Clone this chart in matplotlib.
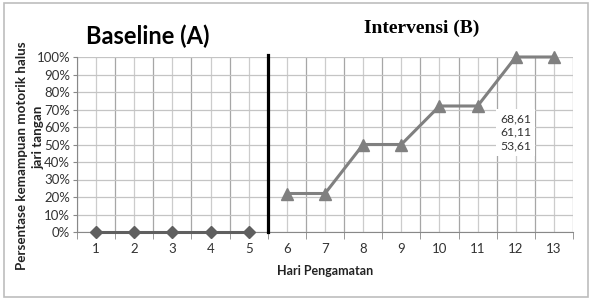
import matplotlib.pyplot as plt
from matplotlib.patches import Rectangle
from matplotlib.ticker import PercentFormatter

days = [1, 2, 3, 4, 5, 6, 7, 8, 9, 10, 11, 12, 13]
baseline_days = [1, 2, 3, 4, 5]
baseline_vals = [0, 0, 0, 0, 0]
interv_days = [6, 7, 8, 9, 10, 11, 12, 13]
interv_vals = [0.22, 0.22, 0.50, 0.50, 0.72, 0.72, 1.00, 1.00]
label_text = ["68,61", "61,11", "53,61"]

plt.rcParams['font.family'] = ['Lato', 'DejaVu Sans']

fig = plt.figure(figsize=(5.94, 3.02), dpi=100)
ax = fig.add_axes([77 / 594, 1 - 232 / 302, 496 / 594, 175 / 302])

ax.plot(baseline_days, baseline_vals, color='#5f5f5f', lw=2.2,
        marker='D', ms=6, zorder=3, clip_on=False)
ax.plot(interv_days, interv_vals, color='#808080', lw=2.2,
        marker='^', ms=8, zorder=3, clip_on=False)
ax.axvline(5.5, ymin=0, ymax=1.01, color='black', lw=2.3, zorder=4, clip_on=False)

ax.set_xlim(0.5, 13.5)
ax.set_ylim(0, 1)
ax.set_xticks(days)
ax.set_xticks([d + 0.5 for d in range(0, 14)], minor=True)
ax.set_yticks([i / 10 for i in range(11)])
ax.yaxis.set_major_formatter(PercentFormatter(1.0, decimals=0))
ax.tick_params(axis='x', which='major', length=0, pad=8, labelsize=9.5, colors='#333333')
ax.tick_params(axis='x', which='minor', length=5, color='#888888')
ax.tick_params(axis='y', length=3, color='#888888', labelsize=9.5, pad=2, labelcolor='#333333')

ax.grid(True, axis='x', which='major', color='#cccccc', lw=0.9)
ax.grid(True, axis='x', which='minor', color='#a6a6a6', lw=0.9)
ax.grid(True, axis='y', which='major', color='#c4c4c4', lw=0.9)
ax.set_axisbelow(True)
for s in ['top', 'right']:
    ax.spines[s].set_visible(False)
for s in ['left', 'bottom']:
    ax.spines[s].set_color('#888888')

ax.text(12.0, 0.57, "\n".join(label_text), ha='center', va='center',
        fontsize=8.8, color='#333333', linespacing=1.3, zorder=5,
        bbox=dict(facecolor='white', edgecolor='none', pad=3))

fig.text(148 / 594, 1 - 36 / 302, "Baseline (A)", ha='center', va='center',
         fontsize=17, fontweight='bold')
fig.text(422 / 594, 1 - 28 / 302, "Intervensi (B)", ha='center', va='center',
         fontsize=14, fontweight='bold', family='Liberation Serif')
fig.text(325 / 594, 1 - 271 / 302, "Hari Pengamatan", ha='center', va='center',
         fontsize=9, fontweight='bold', color='#222222')
fig.text(22 / 594, 1 - 156 / 302, "Persentase kemampuan motorik halus", ha='center',
         va='center', rotation=90, fontsize=9.6, fontweight='bold', color='#222222')
fig.text(38 / 594, 1 - 137 / 302, "jari tangan", ha='center', va='center',
         rotation=90, fontsize=9.6, fontweight='bold', color='#222222')

fig.patches.append(Rectangle((4 / 594, 5 / 302), 584 / 594, 294 / 302,
                             transform=fig.transFigure, fill=False,
                             edgecolor='#bdbdbd', lw=1.2))

fig.savefig("out.png", dpi=100)
